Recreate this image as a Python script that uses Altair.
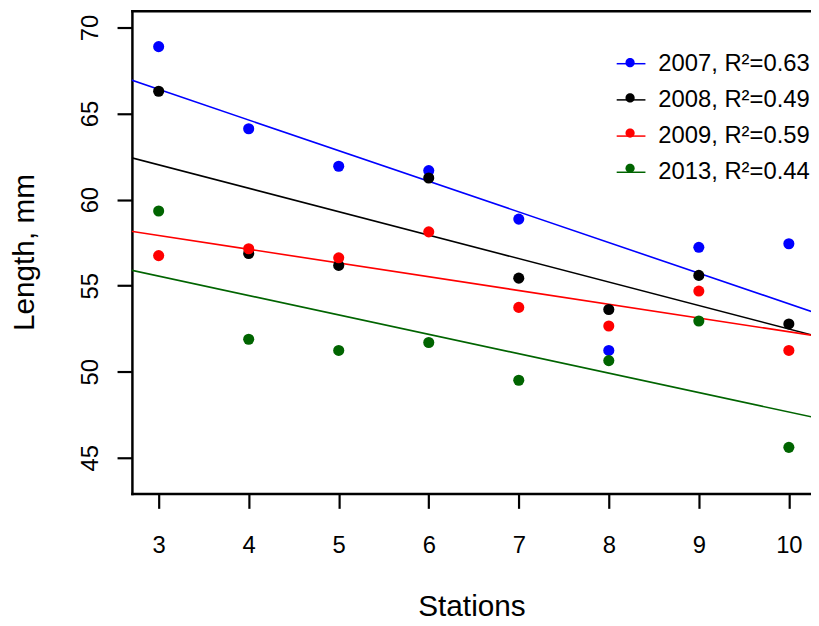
import altair as alt
import pandas as pd

stations = [3, 4, 5, 6, 7, 8, 9, 10]
years = ["2007", "2008", "2009", "2013"]
r2 = ["0.63", "0.49", "0.59", "0.44"]
len_2007 = [68.89, 64.12, 61.94, 61.69, 58.87, 51.24, 57.23, 57.44]
len_2008 = [66.30, 56.87, 56.18, 61.26, 55.44, 53.62, 55.60, 52.78]
len_2009 = [56.75, 57.15, 56.62, 58.13, 53.74, 52.66, 54.69, 51.24]
len_2013 = [59.34, 51.89, 51.24, 51.70, 49.51, 50.65, 52.95, 45.61]
colors = ["#0000FF", "#000000", "#FF0000", "#006400"]
y_ticks = [45, 50, 55, 60, 65, 70]

labels = [f"{y}, R\u00b2={r}" for y, r in zip(years, r2)]
series = [len_2007, len_2008, len_2009, len_2013]
rows = []
for lab, vals in zip(labels, series):
    for s, v in zip(stations, vals):
        rows.append({"station": s, "length": v, "label": lab})
df = pd.DataFrame(rows)

W, H = 685, 487
xscale = alt.Scale(domain=[2.703, 10.246], nice=False, zero=False)
yscale = alt.Scale(domain=[42.93, 70.98], nice=False, zero=False)
FONT = "Liberation Sans"

base = alt.Chart(df)

leg_lines = alt.Legend(
    title=None, orient="none", legendX=488, legendY=38,
    symbolType="M-1,0L1,0", symbolSize=841, symbolStrokeWidth=1.5, symbolOpacity=1,
    labelFontSize=24, labelFont=FONT, labelColor="black", labelOffset=12,
    rowPadding=8.5, padding=0,
)
leg_points = alt.Legend(
    title=None, orient="none", legendX=488, legendY=38,
    symbolType="M-0.32,0A0.32,0.32,0,1,1,0.32,0A0.32,0.32,0,1,1,-0.32,0Z",
    symbolSize=841, symbolStrokeWidth=0, symbolOpacity=1,
    labelFontSize=24, labelFont=FONT, labelColor="black", labelOpacity=0,
    labelExpr="''", labelOffset=12, rowPadding=8.5, padding=0,
)

lines = base.transform_regression(
    "station", "length", groupby=["label"], extent=[2.5, 10.5]
).mark_line(strokeWidth=1.6, clip=True).encode(
    x=alt.X("station:Q", scale=xscale, axis=alt.Axis(
        values=stations, format="d", labelFontSize=24, labelFont=FONT,
        labelColor="black", labelBaseline="alphabetic", labelPadding=45,
        labelFlush=False, labelOverlap=False,
        tickSize=15, tickWidth=2.2, tickColor="black",
        domainWidth=2.5, domainColor="black", domainCap="square", grid=False,
        title="Stations", titleFont=FONT, titleFontSize=30, titleFontWeight="normal",
        titleColor="black", titleY=122.7, titleBaseline="alphabetic")),
    y=alt.Y("length:Q", scale=yscale, axis=alt.Axis(
        values=y_ticks, labelFontSize=24, labelFont=FONT, labelColor="black",
        labelAngle=270, labelAlign="center", labelBaseline="alphabetic",
        labelPadding=20, labelFlush=False, labelOverlap=False,
        tickSize=15, tickWidth=2.2, tickColor="black",
        domainWidth=2.5, domainColor="black", domainCap="square", grid=False,
        title="Length, mm", titleFont=FONT, titleFontSize=30, titleFontWeight="normal",
        titleColor="black", titleAngle=270, titleX=-99, titleY=243.5,
        titleAlign="center", titleBaseline="alphabetic")),
    color=alt.Color("label:N", scale=alt.Scale(domain=labels, range=colors), legend=leg_lines),
)

points = base.transform_calculate(series="datum.label").mark_circle(
    size=125, opacity=1, strokeWidth=0
).encode(
    x=alt.X("station:Q", scale=xscale, axis=alt.Axis(
        orient="top", labels=False, ticks=False, title=None, domain=True,
        domainWidth=2.5, domainColor="black", domainCap="square", grid=False)),
    y=alt.Y("length:Q", scale=yscale, axis=None),
    fill=alt.Fill("series:N", scale=alt.Scale(range=colors), legend=leg_points),
)

chart = alt.layer(lines, points).resolve_axis(x="independent", y="independent").properties(
    width=W, height=H,
    padding={"left": 125, "top": 0, "right": 0, "bottom": 131},
    autosize=alt.AutoSizeParams(type="none"),
    background="white",
).configure_view(stroke=None)

chart.save("out.html", embed_options={"renderer": "svg", "actions": False})
